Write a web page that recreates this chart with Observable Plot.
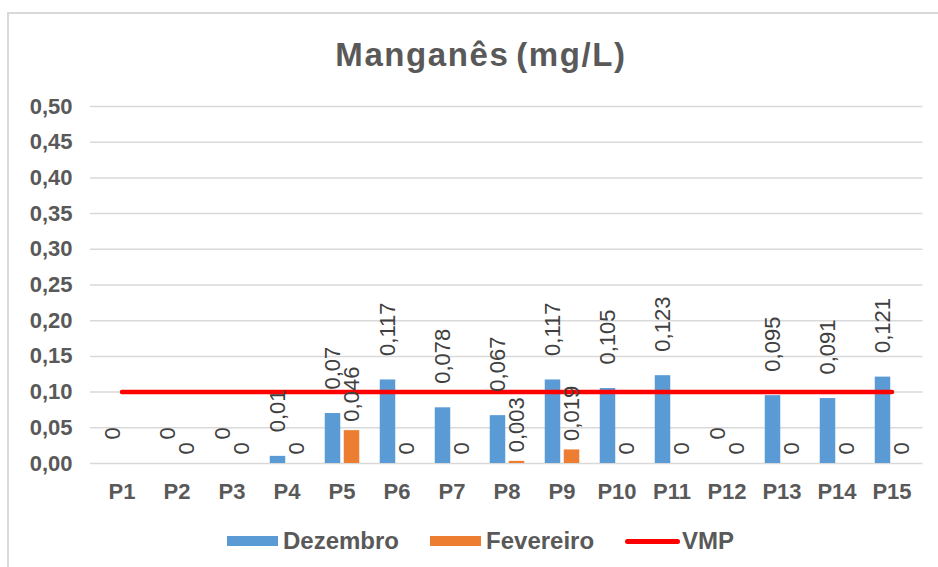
<!DOCTYPE html>
<html>
<head>
<meta charset="utf-8">
<script src="https://cdn.jsdelivr.net/npm/d3@7"></script>
<script src="https://cdn.jsdelivr.net/npm/@observablehq/plot@0.6"></script>
<style>
  html, body { margin: 0; padding: 0; background: #fff; }
  #wrap { position: relative; width: 938px; height: 567px; overflow: hidden; font-family: "Liberation Sans", Arial, sans-serif; color: #595959; }
  #frame { position: absolute; left: 7px; top: 12px; width: 960px; height: 600px; border-top: 2px solid #d9d9d9; border-left: 2px solid #d9d9d9; }
  #title { position: absolute; left: 0; top: 38px; width: 938px; box-sizing: border-box; padding-left: 24px; text-align: center; font-size: 33px; line-height: 33px; font-weight: bold; letter-spacing: 1.6px; word-spacing: -4px; }
  #chart { position: absolute; left: 0; top: 0; }
  #legend { position: absolute; left: 227px; top: 529px; display: flex; align-items: center; font-size: 24px; line-height: 24px; font-weight: bold; }
  .item { display: flex; align-items: center; margin-right: 31px; }
  .sw { width: 51px; height: 10px; margin-right: 5px; }
  .ln { width: 55px; height: 5px; border-radius: 3px; margin-right: 2px; }
</style>
</head>
<body>
<div id="wrap">
  <div id="frame"></div>
  <div id="chart"></div>
  <div id="title">Manganês (mg/L)</div>
  <div id="legend"></div>
</div>
<script>
const categories = ["P1","P2","P3","P4","P5","P6","P7","P8","P9","P10","P11","P12","P13","P14","P15"];
const dezembro = [0, 0, 0, 0.01, 0.07, 0.117, 0.078, 0.067, 0.117, 0.105, 0.123, 0, 0.095, 0.091, 0.121];
const fevereiro = [null, 0, 0, 0, 0.046, 0, 0, 0.003, 0.019, 0, 0, 0, 0, 0, 0];
const vmpLevel = 0.1;
const yTicks = [0, 0.05, 0.10, 0.15, 0.20, 0.25, 0.30, 0.35, 0.40, 0.45, 0.50];
const seriesNames = ["Dezembro", "Fevereiro", "VMP"];
const seriesColors = ["#5B9BD5", "#ED7D31", "#FF0000"];

const dezRows = categories.map((c, i) => ({cat: c, value: dezembro[i]})).filter(d => d.value != null);
const fevRows = categories.map((c, i) => ({cat: c, value: fevereiro[i]})).filter(d => d.value != null);
const vmpRows = categories.map(c => ({cat: c, value: vmpLevel}));

const fmtLabel = v => String(v).replace(".", ",");

const chart = Plot.plot({
  width: 938,
  height: 520,
  marginLeft: 90,
  marginRight: 15.5,
  marginTop: 106,
  marginBottom: 57,
  style: {fontFamily: "'Liberation Sans', Arial, sans-serif", fontSize: "22px", fontWeight: "bold", color: "#595959", background: "transparent", overflow: "visible"},
  x: {domain: categories, padding: 0, tickSize: 0, tickPadding: 20, label: null},
  y: {domain: [0, 0.5], ticks: yTicks, tickFormat: d => d.toFixed(2).replace(".", ","), tickSize: 0, tickPadding: 18, label: null},
  marks: [
    Plot.ruleY(yTicks, {stroke: "#d9d9d9", strokeWidth: 1.5}),
    Plot.barY(dezRows, {x: "cat", y: "value", fill: seriesColors[0], insetLeft: 10.75, insetRight: 28.75}),
    Plot.barY(fevRows, {x: "cat", y: "value", fill: seriesColors[1], insetLeft: 29.75, insetRight: 9.75}),
    Plot.line(vmpRows, {x: "cat", y: "value", stroke: seriesColors[2], strokeWidth: 4.5, strokeLinecap: "round"}),
    Plot.text(dezRows, {x: "cat", y: "value", text: d => fmtLabel(d.value), rotate: -90, textAnchor: "start", dx: -9, dy: -24, fontSize: 22, fontWeight: "normal", fill: "#404040"}),
    Plot.text(fevRows, {x: "cat", y: "value", text: d => fmtLabel(d.value), rotate: -90, textAnchor: "start", dx: 10, dy: -9, fontSize: 22, fontWeight: "normal", fill: "#404040"})
  ]
});
document.getElementById("chart").appendChild(chart);

const legend = document.getElementById("legend");
seriesNames.forEach((name, i) => {
  const item = document.createElement("div");
  item.className = "item";
  const sw = document.createElement("div");
  sw.className = i === 2 ? "ln" : "sw";
  sw.style.background = seriesColors[i];
  const label = document.createElement("span");
  label.textContent = name;
  item.appendChild(sw);
  item.appendChild(label);
  legend.appendChild(item);
});
</script>
</body>
</html>
